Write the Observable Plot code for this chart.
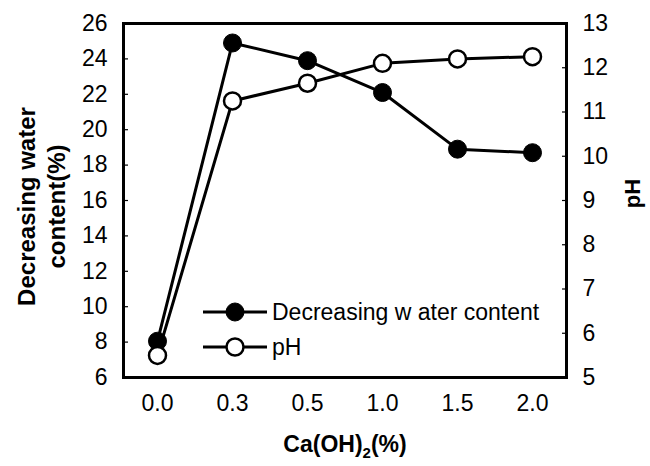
<!DOCTYPE html>
<html><head><meta charset="utf-8">
<script src="https://cdn.jsdelivr.net/npm/d3@7"></script>
<script src="https://cdn.jsdelivr.net/npm/@observablehq/plot@0.6"></script>
<style>
body{margin:0;background:#fff;font-family:"Liberation Sans",Arial,sans-serif;}
#wrap{position:relative;width:650px;height:466px;}
#legend{position:absolute;left:0;top:0;pointer-events:none;}
</style></head><body><div id="wrap"></div>
<script>
const categories = ["0.0", "0.3", "0.5", "1.0", "1.5", "2.0"];
const waterContent = [8.05, 24.9, 23.9, 22.1, 18.9, 18.7];
const pH = [5.5, 11.25, 11.65, 12.1, 12.2, 12.25];
const leftTicks = [6, 8, 10, 12, 14, 16, 18, 20, 22, 24, 26];
const rightTicks = [5, 6, 7, 8, 9, 10, 11, 12, 13];
const leftTitle = "Decreasing water\ncontent(%)";
const rightTitle = "pH";
const legendLabels = ["Decreasing w ater content", "pH"];

const rows = categories.map((c, i) => ({cat: c, water: waterContent[i], ph: pH[i]}));
// map pH (5..13) onto the left scale (6..26)
const phToLeft = p => 6 + (p - 5) * (26 - 6) / (13 - 5);
const leftToPh = v => 5 + (v - 6) * (13 - 5) / (26 - 6);

const chart = Plot.plot({
  width: 650, height: 466,
  marginLeft: 123, marginRight: 84, marginTop: 23, marginBottom: 89,
  style: {fontFamily: "'Liberation Sans', Arial, sans-serif", fontSize: "23px", color: "#000", background: "#fff"},
  x: {type: "point", domain: categories, padding: 0.45, label: null},
  y: {domain: [6, 26], label: null},
  marks: [
    Plot.axisX({tickSize: 0, tickPadding: 17, label: null, fontSize: 23}),
    Plot.axisY({ticks: leftTicks, tickSize: 0, tickPadding: 16, label: null, fontSize: 23}),
    Plot.axisY({ticks: leftTicks.slice(1, -1), tickSize: 5, dx: 5, tickFormat: () => "", label: null, strokeWidth: 1.2}),
    Plot.axisY({anchor: "right", ticks: rightTicks.map(phToLeft), tickFormat: d => String(Math.round(leftToPh(d))), tickSize: 0, tickPadding: 16, label: null, fontSize: 23}),
    Plot.axisY({anchor: "right", ticks: rightTicks.slice(1, -1).map(phToLeft), tickSize: 5, dx: -5, tickFormat: () => "", label: null, strokeWidth: 1.2}),
    Plot.frame({stroke: "#000", strokeWidth: 3}),
    Plot.line(rows, {x: "cat", y: "water", stroke: "#000", strokeWidth: 3}),
    Plot.line(rows, {x: "cat", y: d => phToLeft(d.ph), stroke: "#000", strokeWidth: 3}),
    Plot.dot(rows, {x: "cat", y: "water", r: 9, fill: "#000", stroke: "#000", strokeWidth: 1}),
    Plot.dot(rows, {x: "cat", y: d => phToLeft(d.ph), r: 8.5, fill: "#fff", stroke: "#000", strokeWidth: 2.5}),
    Plot.text([leftTitle], {text: d => d, frameAnchor: "left", textAnchor: "middle", dx: -83, dy: 6, rotate: -90, fontWeight: "bold", fontSize: 24, lineHeight: 1.25}),
    Plot.text([rightTitle], {text: d => d, frameAnchor: "right", textAnchor: "middle", dx: 66, dy: -7, rotate: -90, fontWeight: "bold", fontSize: 22}),
    Plot.text(["Ca(OH)2(%)"], {text: d => d, frameAnchor: "bottom", dy: 74, fontWeight: "bold", fontSize: 23})
  ]
});
document.getElementById("wrap").appendChild(chart);

// subscript the 2 in Ca(OH)2
d3.select(chart).selectAll("text").filter(function() { return this.textContent === "Ca(OH)2(%)"; })
  .each(function() {
    const t = d3.select(this);
    t.text(null);
    t.append("tspan").text("Ca(OH)");
    t.append("tspan").attr("font-size", 15).attr("dy", 6).text("2");
    t.append("tspan").attr("dy", -6).text("(%)");
  });

// legend overlay
const lg = d3.select("#wrap").append("svg").attr("id", "legend").attr("width", 650).attr("height", 466);
const items = [
  {label: legendLabels[0], fill: "#000", r: 9, sw: 1, y: 312},
  {label: legendLabels[1], fill: "#fff", r: 8.5, sw: 2.5, y: 347}
];
items.forEach(it => {
  lg.append("line").attr("x1", 203).attr("x2", 267).attr("y1", it.y).attr("y2", it.y).attr("stroke", "#000").attr("stroke-width", 3);
  lg.append("circle").attr("cx", 235).attr("cy", it.y).attr("r", it.r).attr("fill", it.fill).attr("stroke", "#000").attr("stroke-width", it.sw);
  lg.append("text").attr("x", 272).attr("y", it.y + 8).attr("font-size", 23).attr("font-family", "'Liberation Sans', Arial, sans-serif").text(it.label);
});
</script></body></html>
